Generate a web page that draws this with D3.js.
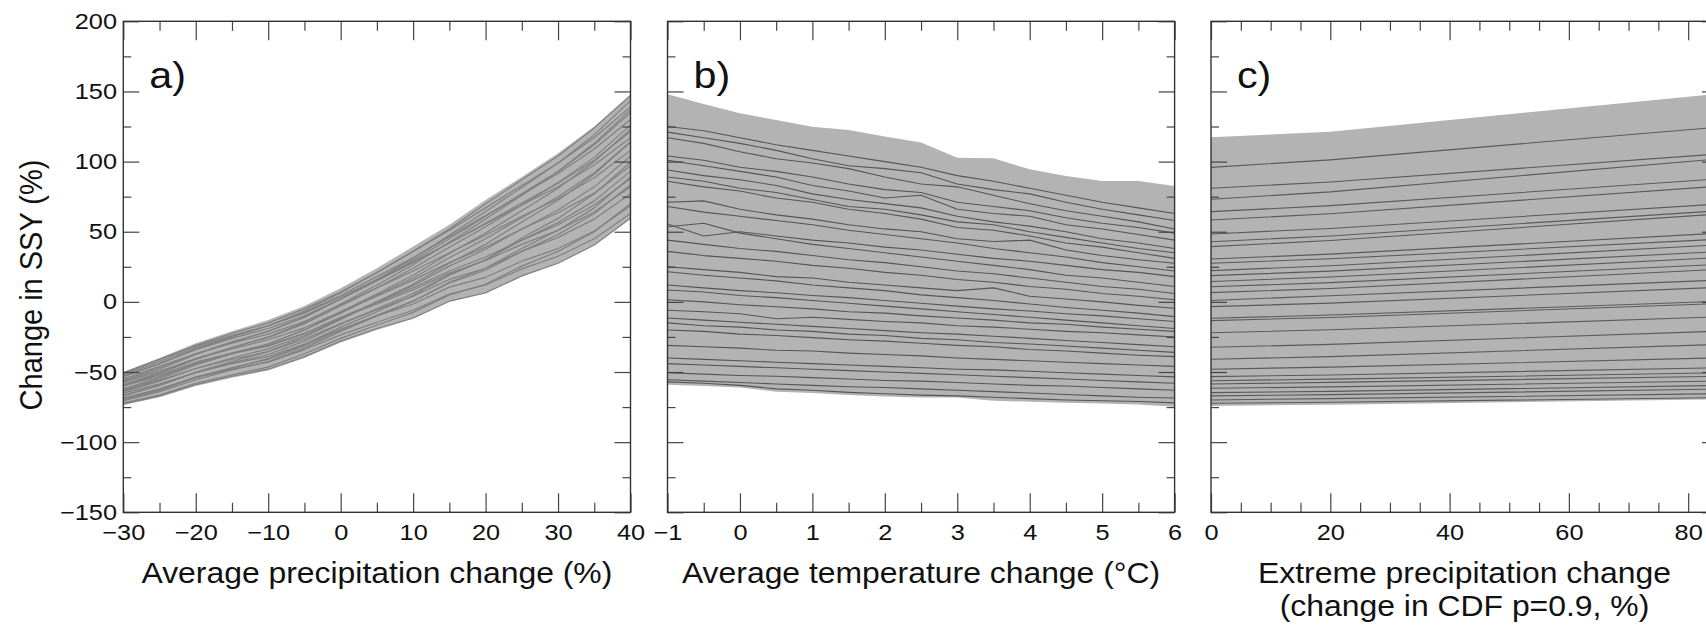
<!DOCTYPE html>
<html>
<head>
<meta charset="utf-8">
<script src="https://cdn.jsdelivr.net/npm/d3@7"></script>
<style>
  body { margin: 0; background: #fff; }
  svg { display: block; font-family: "Liberation Sans", Arial, sans-serif; }
</style>
</head>
<body>
<script>
'use strict';

// y axis shared by all three panels
const yTicks = [-150, -100, -50, 0, 50, 100, 150, 200];

// a) average precipitation change (%)
const precipX = [-30, -25, -20, -15, -10, -5, 0, 5, 10, 15, 20, 25, 30, 35, 40];
const precipTicks = [-30, -20, -10, 0, 10, 20, 30, 40];
const precipBandTop = [-50, -40, -29.5, -21, -13, -3, 9.7, 24, 39.4, 55, 72.6, 89, 106, 125, 148];
const precipBandBottom = [-73.5, -68, -60, -54, -49, -40, -29, -20, -12, 0, 6, 18, 27.5, 40.6, 59.6];
const precipRuns = [
  [-51, -41, -31, -22.5, -15, -5, 7, 21, 36, 51, 67, 83, 99, 117, 139],
  [-53.5, -44, -33.5, -25, -17, -6.5, 6.5, 21, 36, 52, 70, 87, 104, 124, 147],
  [-50.5, -41, -31.5, -24, -17, -8, 3.5, 16, 28.5, 42, 55.5, 69, 82, 97.5, 117],
  [-52, -42.5, -32.5, -24.5, -17, -7.5, 4.5, 18, 31.5, 46.5, 61.5, 76.5, 91.5, 109, 130],
  [-53, -44, -34, -26, -19, -10, 2, 15, 28, 42, 56, 70.5, 84.5, 101, 121.5],
  [-56, -47, -37, -28.5, -21, -11, 2, 15, 29.5, 45, 61, 77, 93, 112, 135],
  [-57, -48, -37.5, -29, -21, -11, 2, 16, 31, 47.5, 64.5, 81.5, 99, 119, 143.5],
  [-55, -46, -37, -29.5, -23, -14, -2, 10, 22, 35, 47.5, 61, 73.5, 88.5, 108],
  [-60, -51, -41, -32.5, -25, -14.5, -1.5, 12, 26.5, 42.5, 59, 76, 93, 113, 137],
  [-59, -50.5, -40.5, -32.5, -25.5, -15.5, -3, 10, 24, 39, 53.5, 69, 85, 103, 126],
  [-57.5, -49.5, -40.5, -33.5, -27, -18.5, -7, 4, 15.5, 28, 39, 52, 63.5, 77.5, 97],
  [-63, -55, -45, -37, -30, -20, -7, 5.5, 19, 34.5, 49, 65, 81, 100, 123],
  [-62, -54, -44, -36.5, -30, -20, -8, 4.5, 17, 31.5, 45, 60, 75, 92, 114],
  [-59.5, -52, -43, -36.5, -31, -22.5, -11.5, -1.5, 8.5, 20.5, 29.5, 41, 51, 64, 82],
  [-60, -53, -44, -37, -31.5, -22.5, -11, -0.5, 10, 22, 32, 44, 55, 69, 88],
  [-64, -56.5, -47.5, -40, -33.5, -24, -12, 0, 11.5, 25.5, 37.5, 52, 65.5, 82, 104],
  [-67, -59.5, -50, -42.5, -35.5, -25, -12.5, 0, 12.5, 27.5, 41, 57, 72.5, 91, 114],
  [-63, -56, -47.5, -41, -35.5, -26.5, -15.5, -5.5, 4, 16, 24, 36, 46, 59, 77],
  [-66.5, -59.5, -50.5, -43.5, -37.5, -28, -16, -5, 6, 19.5, 30, 44, 56.5, 72, 93],
  [-70, -63, -54, -47, -40.5, -30.5, -18, -7, 4.5, 19, 30, 45.5, 59.5, 77, 99.5],
  [-65, -58.5, -50.5, -44, -39, -30, -19.5, -10, -1.5, 10.5, 17.5, 29, 38, 50.5, 68.5],
  [-69, -62.5, -53.5, -47, -41, -31.5, -20, -9.5, 0.5, 13.5, 22.5, 36, 48, 63, 83.5],
  [-70.5, -64, -55.5, -48.5, -42.5, -33, -21, -10, 0.5, 14, 24, 38, 51, 67, 89],
  [-68.5, -62, -54, -48, -43, -34, -23.5, -14.5, -6, 5.5, 12, 23.5, 32.5, 45, 63],
  [-72, -66.5, -58, -52, -46.5, -37, -26, -16.5, -7.5, 5, 12.5, 25.5, 36, 50, 70],
  [-73, -67, -59, -53, -48, -39, -28, -19, -11.5, 0.5, 6.5, 18.5, 27.5, 40.5, 59.6]
];

// b) average temperature change (°C)
const tempX = [-1, -0.5, 0, 0.5, 1, 1.5, 2, 2.5, 3, 3.5, 4, 4.5, 5, 5.5, 6];
const tempTicks = [-1, 0, 1, 2, 3, 4, 5, 6];
const tempBandTop = [148, 141, 134.4, 129.6, 124.9, 122.5, 117.8, 113.6, 102.8, 102.3, 94.5, 89.7, 86.2, 86.2, 82.6];
const tempBandBottom = [-59, -60, -61, -64, -65, -66.4, -67.5, -68.2, -68.2, -70.4, -71.2, -71.9, -72.4, -73.1, -74.7];
const tempRuns = [
  [125, 122, 117, 112, 108, 104, 100, 96, 90, 86, 81, 76, 71, 67, 63],
  [121, 117, 113, 108, 102, 97, 95, 92, 84, 80, 77, 71, 66, 62, 58],
  [117, 113, 107, 102, 99, 95, 89, 84, 82, 76, 70, 65, 61, 57, 52],
  [104, 101, 96, 93, 89, 84, 80, 78, 71, 68, 65, 60, 56, 53, 49],
  [101, 97, 93, 89, 83, 79, 74, 76, 66, 63, 61, 55, 52, 48, 44],
  [94, 90, 87, 83, 77, 73, 70, 67, 61, 57, 54, 50, 45, 42, 38],
  [89, 86, 81, 78, 73, 68, 66, 62, 57, 55, 50, 46, 42, 38, 35],
  [86, 82, 79, 74, 71, 66, 63, 59, 53, 51, 47, 42, 39, 35, 31],
  [71, 72, 66, 62, 59, 55, 52, 50, 45, 43, 44, 37, 33, 30, 27.5],
  [68, 64, 61, 58, 55, 51, 48, 45, 42, 38, 35, 32, 28, 25, 22],
  [55.5, 47, 50, 47, 44, 42, 39, 37, 34, 31, 29, 26, 23, 21, 18],
  [53.5, 56, 49, 45, 41, 38, 35, 32, 29, 26, 23, 19, 17, 14, 11],
  [44, 41, 38, 36, 33, 30, 28, 25, 22, 20, 17, 14, 11, 9, 6],
  [36, 33, 31, 29, 26, 24, 21, 19, 16, 14, 11, 9, 6, 4, 1.5],
  [25, 23, 21, 18, 17, 14, 12, 10, 8, 10, 4, 2, 0, -2.5, -4.5],
  [21.5, 19, 17, 15, 12, 10, 8, 5, 3, 1, -1.5, -4, -6, -8, -10.5],
  [12, 10, 8, 6.5, 4.5, 3, 1, -1, -3, -5, -6.5, -8.5, -10, -12, -14],
  [8.5, 7, 4.5, 3, 1, -1, -3, -5, -7, -9, -11, -13, -15, -17, -19],
  [1.5, 0, -2, -3.5, -5, -7, -8, -10, -11.5, -13, -15, -16, -18, -19.5, -21],
  [-6, -7, -8.5, -12, -11, -12.5, -14, -15, -17, -18, -19.5, -21, -22, -23.5, -25],
  [-11.5, -13, -14.5, -16, -17.5, -19, -20.5, -22, -23, -24.5, -26, -27.5, -29, -30.5, -32],
  [-15, -17, -18, -20, -21, -23, -24, -26, -27, -29, -30, -31.5, -33, -34.5, -36],
  [-20, -21, -23, -24, -25.5, -27, -28, -29.5, -31, -32, -34, -35, -36.5, -38, -39],
  [-31, -32, -33, -34.5, -35, -36.5, -37.5, -38.5, -40, -41, -42, -43, -44, -45, -46],
  [-40, -41, -42, -43, -44, -45, -46, -47, -48, -48.5, -49.5, -50.5, -51.5, -52.5, -53.5],
  [-44, -45, -46, -47, -48, -49, -50, -51, -52, -53, -54, -55, -56, -57, -58],
  [-50.5, -51.5, -52.5, -53, -54, -55, -56, -56.5, -57.5, -58.5, -59.5, -60, -61, -62, -63],
  [-55.5, -56.5, -57.5, -58.5, -59.5, -60.5, -61, -62, -63, -64, -65, -66, -67, -68, -68.5],
  [-57, -58, -59.5, -62, -63, -64.5, -65.5, -66.5, -67, -68, -69, -70, -70.5, -71, -72]
];

// c) extreme precipitation change (change in CDF p=0.9, %)
const extremeX = [0, 20, 85];
const extremeTicks = [0, 20, 40, 60, 80];
const extremeBandTop = [117.3, 121.3, 148.3];
const extremeBandBottom = [-74.2, -73.3, -69.5];
const extremeRuns = [
  [95.9, 101.2, 124.5],
  [81, 85.5, 105.4],
  [73.1, 78.4, 101.9],
  [64.3, 68.6, 87.6],
  [58.4, 62.8, 82.4],
  [48.4, 52.3, 69.7],
  [42.9, 47, 64.9],
  [39.4, 43.7, 62.6],
  [30.6, 34, 48.9],
  [27.5, 30.7, 44.6],
  [22.3, 25.7, 40.6],
  [18.7, 21.9, 35.8],
  [14.5, 17.7, 31.5],
  [10.8, 13.7, 26.7],
  [6.6, 9.5, 23.1],
  [1, 4.4, 15.5],
  [-3.4, -0.9, 10.3],
  [-11.7, -9.4, 0.4],
  [-13.4, -11.1, -1.2],
  [-22, -19.9, -10.7],
  [-32.4, -30.3, -20.9],
  [-40.9, -39, -30.4],
  [-48, -46.5, -39.9],
  [-53.3, -52.1, -47],
  [-56.2, -55.1, -50.6],
  [-58.5, -57.4, -53.1],
  [-61.6, -60.6, -56.5],
  [-64.7, -63.8, -59.6],
  [-67, -66.1, -62.2],
  [-69.9, -69, -65.5],
  [-72.3, -71.6, -68.2]
];

const width = 1706, height = 626;
const plotTop = 21.3, plotBottom = 512.3;
const stretch = 1.1; // text in the figure is slightly widened
const fontFamily = '"Liberation Sans", Arial, sans-serif';

let svg = d3.select('body').append('svg')
  .attr('width', width)
  .attr('height', height);

let y = d3.scaleLinear().domain([-150, 200]).range([plotBottom, plotTop]);
let fmt = d3.format('~g');

const panels = [
  { key: 'a', left: 123.3, right: 630.5, domain: [-30, 40], minor: 5,
    xs: precipX, ticks: precipTicks, hi: precipBandTop, lo: precipBandBottom, runs: precipRuns,
    runColor: '#808080', runWidth: 1.2, title: ['Average precipitation change (%)'] },
  { key: 'b', left: 667.5, right: 1174.6, domain: [-1, 6], minor: 0.5,
    xs: tempX, ticks: tempTicks, hi: tempBandTop, lo: tempBandBottom, runs: tempRuns,
    runColor: '#555', runWidth: 1.1, title: ['Average temperature change (\u00B0C)'] },
  { key: 'c', left: 1211, right: 1718, domain: [0, 85], minor: 5,
    xs: extremeX, ticks: extremeTicks, hi: extremeBandTop, lo: extremeBandBottom, runs: extremeRuns,
    runColor: '#5a5a5a', runWidth: 1.1, title: ['Extreme precipitation change', '(change in CDF p=0.9, %)'] }
];

panels.forEach((p, pi) => {
  let x = d3.scaleLinear().domain(p.domain).range([p.left, p.right]);
  let minorTicks = d3.range(p.domain[0], p.domain[1] + 1e-9, p.minor)
    .filter(v => !p.ticks.some(t => Math.abs(t - v) < 1e-9));

  svg.append('clipPath').attr('id', 'clip-' + p.key)
    .append('rect')
    .attr('x', p.left).attr('y', plotTop)
    .attr('width', p.right - p.left).attr('height', plotBottom - plotTop);

  let g = svg.append('g').attr('clip-path', 'url(#clip-' + p.key + ')');

  let band = d3.area()
    .x((d, i) => x(p.xs[i]))
    .y0((d, i) => y(p.lo[i]))
    .y1((d, i) => y(p.hi[i]));

  g.append('path')
    .datum(p.xs)
    .attr('d', band)
    .attr('fill', '#b3b3b3');

  let line = d3.line()
    .x((d, i) => x(p.xs[i]))
    .y(d => y(d));

  g.selectAll('path.run')
    .data(p.runs)
    .join('path')
    .attr('class', 'run')
    .attr('d', line)
    .attr('fill', 'none')
    .attr('stroke', p.runColor)
    .attr('stroke-width', p.runWidth)
    .attr('stroke-linejoin', 'round');

  // ticks point inward on all four sides
  let addAxis = (axis, tx, ty, labels) => {
    let a = svg.append('g')
      .attr('transform', `translate(${tx},${ty})`)
      .call(axis);
    a.select('.domain').remove();
    a.selectAll('line').attr('stroke', '#444').attr('stroke-width', 1.2);
    if (!labels) a.selectAll('text').remove();
    a.selectAll('text')
      .attr('font-size', 22)
      .attr('fill', '#111')
      .attr('font-family', fontFamily)
      .attr('transform', 'scale(1.15,1)');
    return a;
  };

  addAxis(d3.axisBottom(x).tickValues(p.ticks).tickFormat(fmt).tickSize(-19).tickPadding(12), 0, plotBottom, true);
  addAxis(d3.axisBottom(x).tickValues(minorTicks).tickSize(-9.5), 0, plotBottom, false);
  addAxis(d3.axisTop(x).tickValues(p.ticks).tickSize(-19), 0, plotTop, false);
  addAxis(d3.axisTop(x).tickValues(minorTicks).tickSize(-9.5), 0, plotTop, false);

  let yMinor = d3.range(-125, 200, 50);
  addAxis(d3.axisLeft(y).tickValues(yTicks).tickFormat(fmt).tickSize(-16).tickPadding(5.5), p.left, 0, pi === 0);
  addAxis(d3.axisLeft(y).tickValues(yMinor).tickSize(-8), p.left, 0, false);
  addAxis(d3.axisRight(y).tickValues(yTicks).tickSize(-16), p.right, 0, false);
  addAxis(d3.axisRight(y).tickValues(yMinor).tickSize(-8), p.right, 0, false);

  svg.append('rect')
    .attr('x', p.left).attr('y', plotTop)
    .attr('width', p.right - p.left).attr('height', plotBottom - plotTop)
    .attr('fill', 'none')
    .attr('stroke', '#333')
    .attr('stroke-width', 1.4);

  // panel letter
  svg.append('text')
    .attr('transform', `translate(${p.left + 26},88.3) scale(${stretch},1)`)
    .attr('font-size', 37.5)
    .attr('fill', '#111')
    .text(p.key + ')');

  // x axis title
  let cx = (p.left + p.right) / 2;
  p.title.forEach((t, i) => {
    svg.append('text')
      .attr('transform', `translate(${cx},${583.3 + i * 33}) scale(${stretch},1)`)
      .attr('text-anchor', 'middle')
      .attr('font-size', 29)
      .attr('fill', '#111')
      .text(t);
  });
});

svg.append('text')
  .attr('transform', `translate(42,285) rotate(-90) scale(1,${stretch})`)
  .attr('text-anchor', 'middle')
  .attr('font-size', 29)
  .attr('fill', '#111')
  .text('Change in SSY (%)');
</script>
</body>
</html>
